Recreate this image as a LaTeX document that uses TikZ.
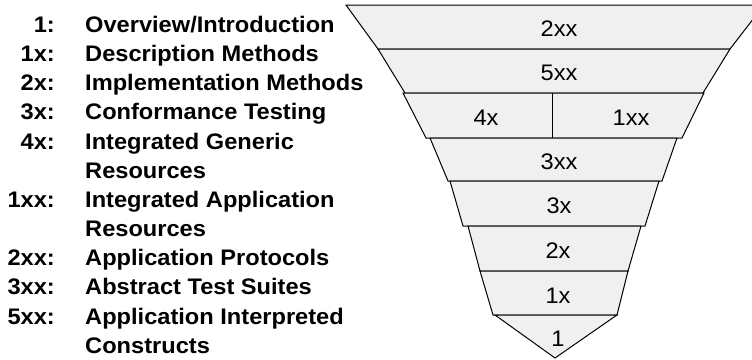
\documentclass[tikz,border=0pt]{standalone}
\usepackage{fontspec}
\setmainfont[FakeStretch=1.05]{Liberation Sans}
\usepackage{xcolor}
\usepackage{tikz}
\usetikzlibrary{positioning}

\definecolor{bandgray}{HTML}{F0F0F0}

\begin{document}
\begin{tikzpicture}[x=1pt, y=-1pt, font=\fontsize{22.5}{29}\selectfont,
    band/.style={fill=bandgray, draw=black, line width=1pt, line join=miter},
    bandlabel/.style={inner sep=0pt},
    legkey/.style={anchor=base east, inner sep=0pt, font=\fontsize{22.5}{29}\selectfont\bfseries},
    legtext/.style={anchor=base west, inner sep=0pt, font=\fontsize{22.5}{29}\selectfont\bfseries}]
  \useasboundingbox (0,0) rectangle (752,359);

  % legend
  \foreach \i/\k/\t in {0/1:/{Overview/Introduction}, 1/1x:/Description Methods,
      2/2x:/Implementation Methods, 3/3x:/Conformance Testing,
      4/4x:/Integrated Generic, 5//Resources,
      6/1xx:/Integrated Application, 7//Resources,
      8/2xx:/Application Protocols, 9/3xx:/Abstract Test Suites,
      10/5xx:/Application Interpreted, 11//Constructs} {
    \node[legkey] (key\i) at (55, 32.3+29.18*\i) {\k};
    \node[legtext] (txt\i) at (85, 32.3+29.18*\i) {\t};
  }

  % funnel
  \filldraw[band] (346,5) -- (764,5) -- (730,49) -- (378,49) -- cycle;
  \filldraw[band] (378,49) -- (730,49) -- (703,93) -- (405,93) -- cycle;
  \filldraw[band] (403,93) -- (704,93) -- (682,138) -- (426,138) -- cycle;
  \draw[line width=1pt] (552,93) -- (552,138);
  \filldraw[band] (430,138) -- (677,138) -- (662,181) -- (448,181) -- cycle;
  \filldraw[band] (450,181) -- (659,181) -- (645,226) -- (463,226) -- cycle;
  \filldraw[band] (468,226) -- (641,226) -- (628,271) -- (480,271) -- cycle;
  \filldraw[band] (480,271) -- (628,271) -- (617,315) -- (493,315) -- cycle;
  \filldraw[band] (495,315) -- (617,315) -- (555,358) -- cycle;

  \node[bandlabel] (p2xx) at (559,29) {2xx};
  \node[bandlabel] (p5xx) at (559,73) {5xx};
  \node[bandlabel] (p4x) at (486,118) {4x};
  \node[bandlabel] (p1xx) at (631,118) {1xx};
  \node[bandlabel] (p3xx) at (559,162) {3xx};
  \node[bandlabel] (p3x) at (559,206) {3x};
  \node[bandlabel] (p2x) at (558,251) {2x};
  \node[bandlabel] (p1x) at (558,296) {1x};
  \node[bandlabel] (p1) at (558,339) {1};
\end{tikzpicture}
\end{document}
